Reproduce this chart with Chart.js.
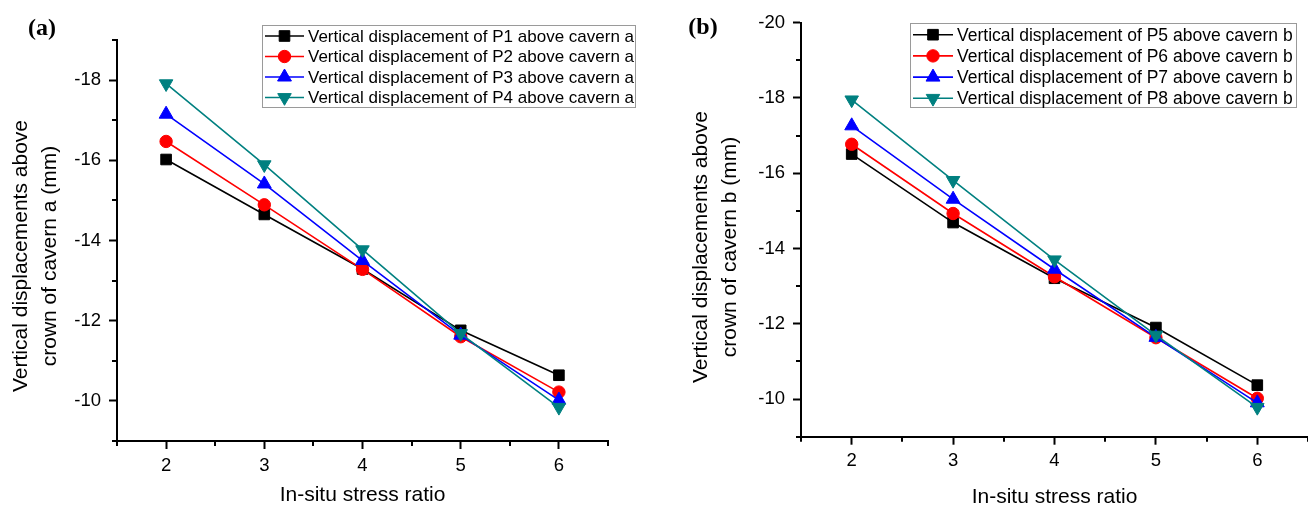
<!DOCTYPE html>
<html><head><meta charset="utf-8">
<script src="https://cdn.jsdelivr.net/npm/chart.js@4.4.0/dist/chart.umd.min.js"></script>
<style>
html,body{margin:0;padding:0;background:#fff;width:1308px;height:509px;overflow:hidden;}
.panel{position:absolute;top:0;width:654px;height:509px;}
</style></head><body>
<div class="panel" style="left:0"><canvas id="ca" width="654" height="509"></canvas></div>
<div class="panel" style="left:654px"><canvas id="cb" width="654" height="509"></canvas></div>
<script>
// ---------- data ----------
const stressRatio = [2, 3, 4, 5, 6];
const xTicks = [2, 3, 4, 5, 6];
const xMinorTicks = [1.5, 2.5, 3.5, 4.5, 5.5, 6.5];
const yTicksA = [-18, -16, -14, -12, -10];
const yMinorTicksA = [-19, -17, -15, -13, -11, -9];
const yTicksB = [-20, -18, -16, -14, -12, -10];
const yMinorTicksB = [-19, -17, -15, -13, -11, -9];

const seriesNamesA = [
  'Vertical displacement of P1 above cavern a',
  'Vertical displacement of P2 above cavern a',
  'Vertical displacement of P3 above cavern a',
  'Vertical displacement of P4 above cavern a'
];
const p1 = [-16.02, -14.65, -13.29, -11.76, -10.64];
const p2 = [-16.47, -14.89, -13.28, -11.60, -10.22];
const p3 = [-17.15, -15.41, -13.50, -11.64, -10.02];
const p4 = [-17.91, -15.89, -13.77, -11.68, -9.84];

const seriesNamesB = [
  'Vertical displacement of P5 above cavern b',
  'Vertical displacement of P6 above cavern b',
  'Vertical displacement of P7 above cavern b',
  'Vertical displacement of P8 above cavern b'
];
const p5 = [-16.51, -14.69, -13.21, -11.90, -10.37];
const p6 = [-16.77, -14.93, -13.25, -11.63, -10.02];
const p7 = [-17.26, -15.31, -13.45, -11.64, -9.90];
const p8 = [-17.95, -15.81, -13.70, -11.70, -9.78];

const xTitle = 'In-situ stress ratio';
const yTitleA = ['Vertical displacements above', 'crown of cavern a (mm)'];
const yTitleB = ['Vertical displacements above', 'crown of cavern b (mm)'];

// ---------- styles ----------
const FONT = '"Liberation Sans", Arial, sans-serif';
const seriesStyles = [
  {color: '#000000', pointStyle: 'rect', rotation: 0, radius: 7.5},
  {color: '#ff0000', pointStyle: 'circle', rotation: 0, radius: 6.2},
  {color: '#0000ff', pointStyle: 'triangle', rotation: 0, radius: 8},
  {color: '#008080', pointStyle: 'triangle', rotation: 180, radius: 7.8}
];

function drawMarker(ctx, st, x, y) {
  ctx.fillStyle = st.color; ctx.strokeStyle = st.color; ctx.lineWidth = 1;
  Chart.helpers.drawPoint(ctx, {pointStyle: st.pointStyle, rotation: st.rotation, radius: st.radius, borderWidth: 1}, x, y);
}

const decorPlugin = {
  id: 'decor',
  afterDraw(chart, args, o) {
    const ctx = chart.ctx, xs = chart.scales.x, ys = chart.scales.y;
    ctx.save();
    // minor ticks
    ctx.strokeStyle = '#000'; ctx.lineWidth = 2;
    o.xMinor.forEach(v => {
      const px = Math.round(xs.getPixelForValue(v));
      ctx.beginPath(); ctx.moveTo(px, chart.chartArea.bottom); ctx.lineTo(px, chart.chartArea.bottom + 5); ctx.stroke();
    });
    o.yMinor.forEach(v => {
      const py = Math.round(ys.getPixelForValue(v));
      ctx.beginPath(); ctx.moveTo(chart.chartArea.left, py); ctx.lineTo(chart.chartArea.left - 5, py); ctx.stroke();
    });
    // titles
    ctx.fillStyle = '#000';
    ctx.font = '21px ' + FONT;
    ctx.textAlign = 'center'; ctx.textBaseline = 'middle';
    ctx.fillText(o.xTitle, (chart.chartArea.left + chart.chartArea.right) / 2, o.xTitleY);
    o.yTitle.forEach((t, i) => {
      ctx.save();
      ctx.translate(o.yTitleX[i], o.yTitleCY);
      ctx.rotate(-Math.PI / 2);
      ctx.fillText(t, 0, 0);
      ctx.restore();
    });
    // panel label
    ctx.font = 'bold 24px "Liberation Serif", "Times New Roman", serif';
    ctx.fillText(o.label, o.labelX, o.labelY);
    // legend
    const L = o.legend;
    ctx.fillStyle = '#fff'; ctx.strokeStyle = '#9a9a9a'; ctx.lineWidth = 1;
    ctx.fillRect(L.x0, L.y0, L.x1 - L.x0, L.y1 - L.y0);
    ctx.strokeRect(L.x0 + 0.5, L.y0 + 0.5, L.x1 - L.x0, L.y1 - L.y0);
    chart.data.datasets.forEach((ds, i) => {
      const st = seriesStyles[i];
      const y = L.row0 + i * L.step;
      ctx.strokeStyle = st.color; ctx.lineWidth = 1.6;
      ctx.beginPath(); ctx.moveTo(L.lx0, y); ctx.lineTo(L.lx1, y); ctx.stroke();
      drawMarker(ctx, st, (L.lx0 + L.lx1) / 2, y);
      ctx.fillStyle = '#000';
      ctx.font = L.fontSize + 'px ' + FONT;
      ctx.textAlign = 'left'; ctx.textBaseline = 'middle';
      ctx.fillText(ds.label, L.tx, y + 1);
    });
    ctx.restore();
  }
};

function makeChart(id, names, series, yMin, yMax, yTicks, yMinor, geo) {
  const datasets = series.map((vals, i) => {
    const st = seriesStyles[i];
    return {
      label: names[i],
      data: stressRatio.map((x, j) => ({x: x, y: vals[j]})),
      borderColor: st.color, backgroundColor: st.color,
      borderWidth: 1.6,
      pointStyle: st.pointStyle, rotation: st.rotation,
      pointRadius: st.radius, pointBorderWidth: 1,
      pointBackgroundColor: st.color, pointBorderColor: st.color,
      tension: 0, order: 3 - i, clip: false
    };
  });
  return new Chart(document.getElementById(id), {
    type: 'line',
    data: {datasets},
    plugins: [decorPlugin],
    options: {
      responsive: false, animation: false, events: [], devicePixelRatio: 1,
      layout: {padding: geo.padding, autoPadding: false},
      plugins: {legend: {display: false}, tooltip: {enabled: false}, title: {display: false},
        decor: geo.decor},
      scales: {
        x: {
          type: 'linear', min: 1.5, max: 6.5,
          afterBuildTicks: s => { s.ticks = xTicks.map(v => ({value: v})); },
          afterFit: s => { s.height = geo.xHeight; },
          border: {display: true, color: '#000', width: 2},
          grid: {drawOnChartArea: false, drawTicks: true, tickLength: 8, tickWidth: 2, tickColor: '#000'},
          ticks: {color: '#000', font: {family: FONT, size: 18.5}, padding: geo.xPad, maxRotation: 0, autoSkip: false}
        },
        y: {
          type: 'linear', min: yMin, max: yMax, reverse: true,
          afterBuildTicks: s => { s.ticks = yTicks.map(v => ({value: v})); },
          afterFit: s => { s.width = geo.yWidth; },
          border: {display: true, color: '#000', width: 2},
          grid: {drawOnChartArea: false, drawTicks: true, tickLength: 8, tickWidth: 2, tickColor: '#000'},
          ticks: {color: '#000', font: {family: FONT, size: 18.5}, padding: 8, autoSkip: false}
        }
      }
    }
  });
}

makeChart('ca', seriesNamesA, [p1, p2, p3, p4], -19, -9, yTicksA, yMinorTicksA, {
  padding: {left: 0, right: 46, top: 40, bottom: 0},
  xHeight: 68, yWidth: 117, xPad: 6,
  decor: {
    xMinor: xMinorTicks, yMinor: yMinorTicksA,
    xTitle: xTitle, xTitleY: 495,
    yTitle: yTitleA, yTitleX: [21, 50], yTitleCY: 256,
    label: '(a)', labelX: 42, labelY: 29,
    legend: {x0: 262, y0: 25, x1: 635, y1: 107, row0: 36, step: 20.5, lx0: 265, lx1: 304, tx: 308, fontSize: 17}
  }
});

makeChart('cb', seriesNamesB, [p5, p6, p7, p8], -20, -9, yTicksB, yMinorTicksB, {
  padding: {left: 0, right: 0, top: 22.7, bottom: 0},
  xHeight: 72.3, yWidth: 147, xPad: 5,
  decor: {
    xMinor: xMinorTicks, yMinor: yMinorTicksB,
    xTitle: xTitle, xTitleY: 497,
    yTitle: yTitleB, yTitleX: [701, 730].map(v => v - 654), yTitleCY: 247,
    label: '(b)', labelX: 703 - 654, labelY: 28,
    legend: {x0: 256, y0: 23, x1: 642, y1: 107, row0: 34.7, step: 21.2, lx0: 259, lx1: 299, tx: 303, fontSize: 17.5}
  }
});
</script>
</body></html>
